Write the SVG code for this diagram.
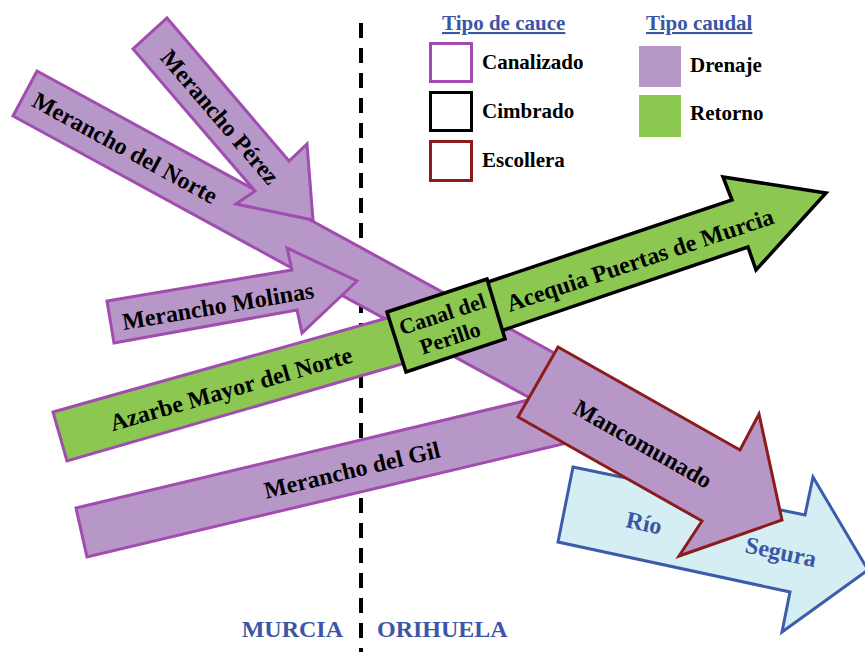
<svg xmlns="http://www.w3.org/2000/svg" width="865" height="652" viewBox="0 0 865 652">
<style>
.lbl{font-family:"Liberation Serif","Times New Roman",serif;font-weight:bold;font-size:24px;fill:#000;text-anchor:middle;dominant-baseline:central}
.leg{font-family:"Liberation Serif","Times New Roman",serif;font-weight:bold;font-size:21px;fill:#000}
.legh{font-family:"Liberation Serif","Times New Roman",serif;font-weight:bold;font-size:21px;fill:#3b56a6;text-decoration:underline}
.blue{fill:#3b56a6}
.drain{fill:#b797c8;stroke:#a14db0;stroke-width:3;stroke-linejoin:miter}
.ret{fill:#8bc751;stroke:#a14db0;stroke-width:3}
.retb{fill:#8bc751;stroke:#000;stroke-width:3.5}
.esc{fill:#b797c8;stroke:#8c1c1c;stroke-width:3}
.rio{fill:#d4eef4;stroke:#3a5caa;stroke-width:3}
</style>
<rect width="865" height="652" fill="#fff"/>
<g id="connectors">
<line id="boundary" x1="361" y1="23" x2="361" y2="652" stroke="#000" stroke-width="4" stroke-dasharray="15 10"/>
</g>
<g id="gil">
<polygon class="drain" points="76,508 545,396 575,441 87,557"/>
<text class="lbl" transform="translate(352,470) rotate(-13.4)">Merancho del Gil</text>
</g>
<g id="norte">
<polygon class="drain" points="37,71 600,378 576,423 13,116"/>
<text class="lbl" transform="translate(125,148) rotate(28.6)">Merancho del Norte</text>
</g>
<g id="perez">
<polygon class="drain" points="167,18 289,161 307,144 313,220 236,204 255,191 133,49"/>
<text class="lbl" transform="translate(220,117) rotate(49.5)">Merancho Pérez</text>
</g>
<g id="molinas">
<polygon class="drain" points="107,301 292,270 287,248 357,281 302,333 297,310 114,343"/>
<text class="lbl" transform="translate(218,306) rotate(-9.5)">Merancho Molinas</text>
</g>
<g id="azarbe">
<polygon class="ret" points="53,412 430,306 440,353 67,461"/>
<text class="lbl" transform="translate(231,389) rotate(-16)">Azarbe Mayor del Norte</text>
</g>
<g id="acequia">
<polygon class="retb" points="470,288 732,200 723,177 826,193 756,270 748,247 480,338"/>
<text class="lbl" transform="translate(640,260) rotate(-18.5)">Acequia Puertas de Murcia</text>
</g>
<g id="perillo">
<polygon class="retb" points="387,312 487,279 505,339 406,372"/>
<g transform="translate(446,325.5) rotate(-18.3)">
<text class="lbl" style="font-size:22px" y="-12">Canal del</text>
<text class="lbl" style="font-size:22px" y="13">Perillo</text>
</g>
</g>
<g id="rio">
<polygon class="rio" points="573,467 805,515 813,477 868,570 782,632 790,592 558,542"/>
<text class="lbl blue" transform="translate(644,523) rotate(12)">Río</text>
<text class="lbl blue" transform="translate(781,552) rotate(12)">Segura</text>
</g>
<g id="mancomunado">
<polygon class="esc" points="558,347 740,450 759,414 782,520 679,556 702,521 518,417"/>
<text class="lbl" transform="translate(643,444) rotate(29.6)">Mancomunado</text>
</g>
<g id="legend-cauce">
<text class="legh" x="442" y="30">Tipo de cauce</text>
<rect x="430.5" y="43.5" width="41" height="38" fill="#fff" stroke="#a14db0" stroke-width="3"/>
<text class="leg" x="482" y="69">Canalizado</text>
<rect x="430.5" y="92.5" width="41" height="38" fill="#fff" stroke="#000" stroke-width="3"/>
<text class="leg" x="482" y="118">Cimbrado</text>
<rect x="430.5" y="141.5" width="41" height="39" fill="#fff" stroke="#8c1c1c" stroke-width="3"/>
<text class="leg" x="482" y="167">Escollera</text>
</g>
<g id="legend-caudal">
<text class="legh" x="646" y="30">Tipo caudal</text>
<rect x="639" y="46" width="42" height="41" fill="#b797c8"/>
<text class="leg" x="690" y="72">Drenaje</text>
<rect x="639" y="95" width="42" height="42" fill="#8bc751"/>
<text class="leg" x="690" y="120">Retorno</text>
</g>
<g id="regions">
<text class="leg blue" style="font-size:24px" x="343" y="637" text-anchor="end">MURCIA</text>
<text class="leg blue" style="font-size:24px" x="377" y="637">ORIHUELA</text>
</g>
</svg>
